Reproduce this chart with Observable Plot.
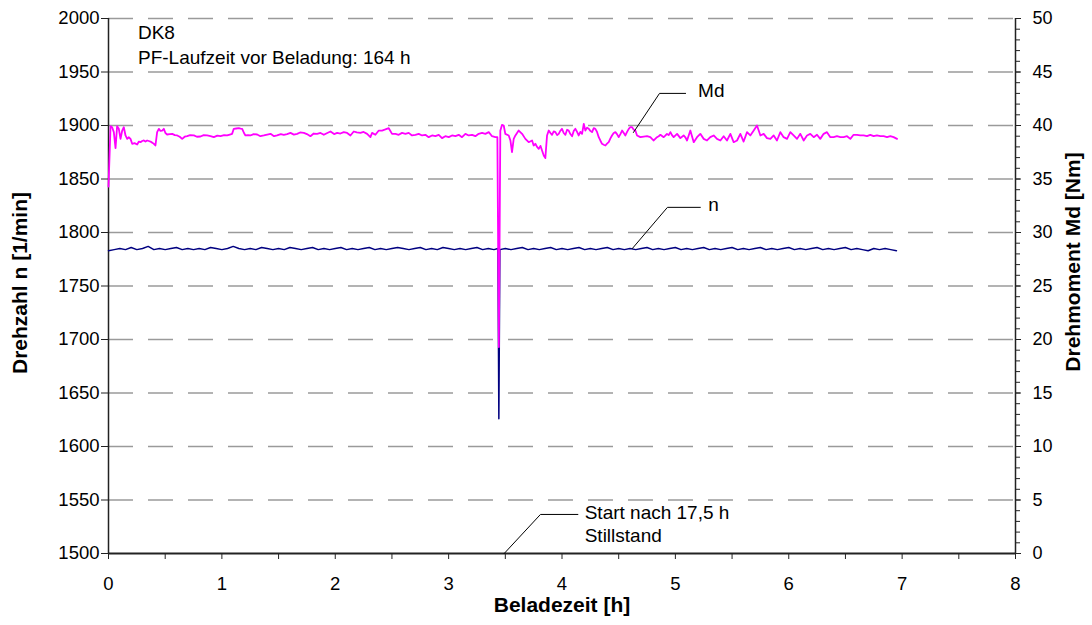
<!DOCTYPE html>
<html><head><meta charset="utf-8">
<script src="https://cdn.jsdelivr.net/npm/d3@7"></script>
<script src="https://cdn.jsdelivr.net/npm/@observablehq/plot@0.6"></script>
<style>body{margin:0;background:#fff} #chart svg{font-family:"Liberation Sans",Arial,sans-serif}</style>
</head><body><div id="chart"></div>
<script>
// Drehzahl n [1/min] over Beladezeit [h]
const nSeries = [[0,1783],[0.05,1784],[0.1,1785],[0.15,1784],[0.2,1786],[0.25,1784],[0.3,1785],[0.35,1787],[0.4,1784],[0.45,1785],[0.5,1784],[0.55,1785],[0.6,1786],[0.65,1784],[0.7,1785],[0.75,1784],[0.8,1785],[0.85,1784],[0.9,1786],[0.95,1785],[1.0,1784],[1.05,1785],[1.1,1787],[1.15,1785],[1.2,1784],[1.25,1785],[1.3,1784],[1.35,1786],[1.4,1785],[1.45,1784],[1.5,1785],[1.55,1784],[1.6,1786],[1.65,1785],[1.7,1784],[1.75,1785],[1.8,1786],[1.85,1784],[1.9,1785],[1.95,1784],[2.0,1785],[2.05,1786],[2.1,1784],[2.15,1785],[2.2,1784],[2.25,1785],[2.3,1786],[2.35,1784],[2.4,1785],[2.45,1784],[2.5,1785],[2.55,1786],[2.6,1785],[2.65,1784],[2.7,1785],[2.75,1786],[2.8,1784],[2.85,1785],[2.9,1784],[2.95,1786],[3.0,1785],[3.05,1784],[3.1,1785],[3.15,1784],[3.2,1785],[3.25,1786],[3.3,1784],[3.35,1785],[3.4,1784],[3.435,1785],[3.443,1626],[3.452,1784],[3.5,1785],[3.55,1784],[3.6,1785],[3.65,1786],[3.7,1784],[3.75,1785],[3.8,1784],[3.85,1785],[3.9,1786],[3.95,1784],[4.0,1785],[4.05,1784],[4.1,1785],[4.15,1786],[4.2,1784],[4.25,1785],[4.3,1784],[4.35,1785],[4.4,1786],[4.45,1784],[4.5,1785],[4.55,1784],[4.6,1785],[4.65,1784],[4.7,1785],[4.75,1786],[4.8,1784],[4.85,1785],[4.9,1784],[4.95,1785],[5.0,1786],[5.05,1784],[5.1,1785],[5.15,1784],[5.2,1785],[5.25,1786],[5.3,1784],[5.35,1785],[5.4,1784],[5.45,1785],[5.5,1786],[5.55,1784],[5.6,1785],[5.65,1784],[5.7,1785],[5.75,1786],[5.8,1784],[5.85,1785],[5.9,1784],[5.95,1785],[6.0,1786],[6.05,1784],[6.1,1785],[6.15,1784],[6.2,1785],[6.25,1786],[6.3,1784],[6.35,1785],[6.4,1784],[6.45,1785],[6.5,1786],[6.55,1784],[6.6,1785],[6.65,1784],[6.7,1783],[6.75,1785],[6.8,1784],[6.85,1785],[6.9,1784],[6.95,1783]];

// Drehmoment Md [Nm] over Beladezeit [h]
const mdSeries = [[0,34.3],[0.018,39.94],[0.032,39.84],[0.047,39.38],[0.062,37.88],[0.076,39.94],[0.091,39.69],[0.106,38.75],[0.121,39.53],[0.135,39.84],[0.15,39.07],[0.165,38.75],[0.18,38.9],[0.194,38.75],[0.209,38.29],[0.23,38.35],[0.253,38.22],[0.268,38.5],[0.282,38.44],[0.297,38.55],[0.312,38.6],[0.326,38.5],[0.341,38.6],[0.355,38.55],[0.37,38.5],[0.385,38.4],[0.4,38.29],[0.414,38.13],[0.429,39.38],[0.444,39.69],[0.458,39.5],[0.473,39.53],[0.488,39.69],[0.502,39.3],[0.517,39.16],[0.54,39.2],[0.562,39.22],[0.585,39.1],[0.606,39.07],[0.628,38.95],[0.65,38.75],[0.672,38.95],[0.694,39.0],[0.72,39.1],[0.753,39.07],[0.78,38.95],[0.811,38.97],[0.84,39.1],[0.87,39.07],[0.9,39.0],[0.929,38.91],[0.96,39.05],[0.988,39.0],[1.02,39.1],[1.046,39.07],[1.07,39.15],[1.09,39.22],[1.105,39.69],[1.127,39.72],[1.149,39.75],[1.165,39.7],[1.179,39.69],[1.195,39.3],[1.208,39.07],[1.23,39.1],[1.252,39.07],[1.28,39.2],[1.311,39.16],[1.34,39.0],[1.37,39.07],[1.4,39.15],[1.429,39.22],[1.46,39.0],[1.487,39.07],[1.52,39.2],[1.546,39.13],[1.575,39.2],[1.605,39.31],[1.635,39.15],[1.664,39.22],[1.69,39.35],[1.723,39.31],[1.75,39.2],[1.781,39.0],[1.81,39.25],[1.84,39.22],[1.87,39.3],[1.899,39.13],[1.93,39.3],[1.958,39.44],[1.99,39.2],[2.017,39.31],[2.045,39.25],[2.075,39.38],[2.105,39.3],[2.134,39.07],[2.163,39.44],[2.19,39.35],[2.222,39.31],[2.25,39.4],[2.281,39.22],[2.31,38.91],[2.325,39.31],[2.354,39.13],[2.384,39.53],[2.413,39.53],[2.442,39.63],[2.472,39.75],[2.501,39.22],[2.531,39.22],[2.56,39.13],[2.589,39.31],[2.619,39.22],[2.648,39.31],[2.677,39.07],[2.707,39.13],[2.736,39.22],[2.766,39.07],[2.795,39.13],[2.824,38.91],[2.854,39.07],[2.883,39.0],[2.913,39.13],[2.942,38.82],[2.971,39.0],[3.001,38.91],[3.03,39.07],[3.06,39.0],[3.089,39.13],[3.118,38.91],[3.148,39.22],[3.177,39.07],[3.207,39.13],[3.236,39.0],[3.265,39.22],[3.295,39.31],[3.324,39.22],[3.354,39.38],[3.383,39.0],[3.412,38.91],[3.43,38.9],[3.443,19.3],[3.456,39.5],[3.471,40.06],[3.486,40.0],[3.5,39.22],[3.53,39.07],[3.545,38.6],[3.559,37.51],[3.574,38.75],[3.589,39.07],[3.618,39.53],[3.648,39.22],[3.677,38.75],[3.706,38.44],[3.736,38.6],[3.75,38.13],[3.765,38.29],[3.78,38.0],[3.795,37.82],[3.81,38.1],[3.824,37.66],[3.839,37.2],[3.853,36.95],[3.868,39.07],[3.883,39.53],[3.898,39.3],[3.912,39.13],[3.927,39.45],[3.942,39.38],[3.957,39.1],[3.971,39.22],[3.985,39.5],[4.0,39.69],[4.015,39.3],[4.03,39.13],[4.045,39.6],[4.059,39.53],[4.074,39.2],[4.089,39.0],[4.104,39.5],[4.118,39.69],[4.133,39.4],[4.147,39.07],[4.162,39.4],[4.177,39.22],[4.192,40.16],[4.206,39.53],[4.221,39.8],[4.236,39.69],[4.25,39.5],[4.265,39.38],[4.28,39.75],[4.294,39.69],[4.309,39.4],[4.324,38.91],[4.338,38.6],[4.353,38.29],[4.368,38.2],[4.383,38.13],[4.397,38.3],[4.412,38.44],[4.427,38.8],[4.441,39.07],[4.456,39.3],[4.471,39.38],[4.485,39.2],[4.5,38.91],[4.515,39.2],[4.53,39.53],[4.545,39.3],[4.559,39.07],[4.574,39.4],[4.589,39.69],[4.603,39.84],[4.618,39.84],[4.633,39.6],[4.647,39.53],[4.662,39.07],[4.691,38.91],[4.721,38.97],[4.75,39.0],[4.779,38.91],[4.794,38.75],[4.809,38.6],[4.838,38.91],[4.853,39.0],[4.868,39.13],[4.897,38.91],[4.911,39.05],[4.926,39.22],[4.941,39.1],[4.956,39.38],[4.97,39.1],[4.985,38.91],[5.015,39.22],[5.044,38.82],[5.073,39.07],[5.088,38.9],[5.103,38.6],[5.132,39.53],[5.162,38.44],[5.191,38.91],[5.22,39.22],[5.25,38.75],[5.279,38.6],[5.308,38.91],[5.338,39.07],[5.367,38.75],[5.397,38.6],[5.426,39.0],[5.455,38.6],[5.485,39.22],[5.514,38.44],[5.544,38.6],[5.573,39.22],[5.602,38.5],[5.632,39.38],[5.661,39.07],[5.691,39.53],[5.72,40.0],[5.735,39.53],[5.75,39.07],[5.779,39.22],[5.808,38.82],[5.838,38.75],[5.867,39.07],[5.896,38.6],[5.926,39.38],[5.955,38.91],[5.985,38.75],[6.014,39.38],[6.043,39.07],[6.073,38.75],[6.102,39.22],[6.132,38.6],[6.161,39.07],[6.19,39.22],[6.22,38.91],[6.249,39.13],[6.278,38.75],[6.308,39.22],[6.337,39.38],[6.367,38.91],[6.396,38.91],[6.425,39.0],[6.455,38.91],[6.484,38.91],[6.514,39.0],[6.543,38.75],[6.572,39.13],[6.602,39.13],[6.631,39.07],[6.661,39.07],[6.69,39.0],[6.719,39.13],[6.749,39.0],[6.778,39.07],[6.808,39.0],[6.837,39.0],[6.867,38.91],[6.896,39.0],[6.925,38.91],[6.955,38.75]];

// Axis ticks and labels
const nTicks = [1500,1550,1600,1650,1700,1750,1800,1850,1900,1950,2000];
const nTickLabels = ["1500","1550","1600","1650","1700","1750","1800","1850","1900","1950","2000"];
const mdTickLabels = [0,5,10,15,20,25,30,35,40,45,50];
const mdMinorTicks = [0,1,2,3,4,5,6,7,8,9,10,11,12,13,14,15,16,17,18,19,20,21,22,23,24,25,26,27,28,29,30,31,32,33,34,35,36,37,38,39,40,41,42,43,44,45,46,47,48,49,50];
const xTicks = [0,0.5,1,1.5,2,2.5,3,3.5,4,4.5,5,5.5,6,6.5,7,7.5,8];
const xTickLabels = [0,1,2,3,4,5,6,7,8];

// Texts
const xLabel = "Beladezeit [h]";
const yLeftLabel = "Drehzahl n [1/min]";
const yRightLabel = "Drehmoment Md [Nm]";
const infoLines = [{t: 0.26, n: 1987, text: "DK8"}, {t: 0.26, n: 1963.5, text: "PF-Laufzeit vor Beladung: 164 h"}];
const mdLeader = [[4.63, 1893.5], [4.86, 1930], [5.09, 1930]];
const nLeader = [[4.62, 1785], [4.93, 1823.5], [5.22, 1823.5]];
const startLeader = [[3.49, 1500], [3.81, 1536.5], [4.14, 1536.5]];
const annotations = [
  {t: 5.2, n: 1932, text: "Md"},
  {t: 5.29, n: 1826, text: "n"},
  {t: 4.2, n: 1538, text: "Start nach 17,5 h"},
  {t: 4.2, n: 1516.5, text: "Stillstand"}
];

const mdToN = v => 1500 + v * 10;
const font = "Liberation Sans, Arial, sans-serif";

const chart = Plot.plot({
  width: 1092, height: 625,
  marginLeft: 108, marginRight: 77, marginTop: 18, marginBottom: 72,
  style: {fontFamily: font, fontSize: "18px", color: "#000", background: "#fff", overflow: "visible"},
  x: {domain: [0, 8]},
  y: {domain: [1500, 2000]},
  marks: [
    Plot.ruleY(nTicks.slice(1), {stroke: "#9a9a9a", strokeWidth: 1.5, strokeDasharray: "25,15"}),
    Plot.axisY({anchor: "left", ticks: nTicks, tickSize: 7, tickPadding: 2, tickFormat: d => nTickLabels[nTicks.indexOf(d)], label: null, fontSize: 18.5, stroke: "#222"}),
    Plot.axisY({anchor: "right", ticks: mdMinorTicks.map(mdToN), tickSize: 4, tickFormat: () => "", label: null, stroke: "#222"}),
    Plot.axisY({anchor: "right", ticks: nTicks, tickSize: 5, tickPadding: 12, tickFormat: d => mdTickLabels[nTicks.indexOf(d)], label: null, fontSize: 18, stroke: "#222"}),
    Plot.axisX({ticks: xTicks, tickSize: 6, tickPadding: 17, tickFormat: d => xTickLabels.includes(d) ? String(d) : "", label: null, fontSize: 18.5, stroke: "#222"}),
    Plot.ruleX([0, 8], {stroke: "#222", strokeWidth: 1.5}),
    Plot.ruleY([1500], {stroke: "#222", strokeWidth: 2}),
    Plot.line(nSeries, {x: d => d[0], y: d => d[1], stroke: "#000080", strokeWidth: 1.5}),
    Plot.line(mdSeries, {x: d => d[0], y: d => mdToN(d[1]), stroke: "#ff00ff", strokeWidth: 1.8}),
    Plot.line(mdLeader, {x: d => d[0], y: d => d[1], stroke: "#000", strokeWidth: 1}),
    Plot.line(nLeader, {x: d => d[0], y: d => d[1], stroke: "#000", strokeWidth: 1}),
    Plot.line(startLeader, {x: d => d[0], y: d => d[1], stroke: "#000", strokeWidth: 1}),
    Plot.text(infoLines, {x: "t", y: "n", text: "text", textAnchor: "start", fontSize: 19, fill: "#000"}),
    Plot.text(annotations, {x: "t", y: "n", text: "text", textAnchor: "start", fontSize: 19, fill: "#000"}),
    Plot.text([xLabel], {frameAnchor: "bottom", textAnchor: "middle", dy: 58, fontSize: 21, fontWeight: "bold", fill: "#000"}),
    Plot.text([yLeftLabel], {frameAnchor: "left", textAnchor: "middle", dx: -88, dy: -3, rotate: -90, fontSize: 21, fontWeight: "bold", fill: "#000"}),
    Plot.text([yRightLabel], {frameAnchor: "right", textAnchor: "middle", dx: 58, dy: -24, rotate: -90, fontSize: 21, fontWeight: "bold", fill: "#000"})
  ]
});
document.getElementById("chart").appendChild(chart);
</script>
</body></html>
